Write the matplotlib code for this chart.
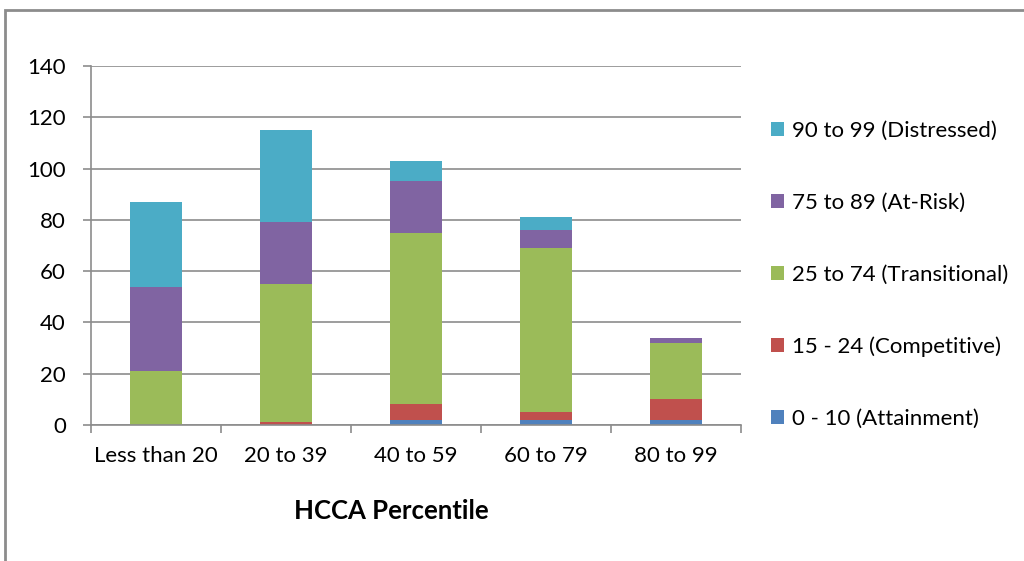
import numpy as np
import matplotlib.pyplot as plt
from matplotlib.patches import Rectangle

categories = ["Less than 20", "20 to 39", "40 to 59", "60 to 79", "80 to 99"]
series_names = ["0 - 10 (Attainment)", "15 - 24 (Competitive)", "25 to 74 (Transitional)",
                "75 to 89 (At-Risk)", "90 to 99 (Distressed)"]
attainment = [0, 0, 2, 2, 2]
competitive = [0, 1, 6, 3, 8]
transitional = [21, 54, 67, 64, 22]
at_risk = [33, 24, 20, 7, 2]
distressed = [33, 36, 8, 5, 0]
colors = ["#4f81bd", "#c0504d", "#9bbb59", "#8064a2", "#4bacc6"]

plt.rcParams['font.family'] = ['Lato', 'DejaVu Sans']
plt.rcParams['font.size'] = 16

fig = plt.figure(figsize=(10.24, 5.61), dpi=100)
ax = fig.add_axes([91/1024, 1 - 425/561, 650/1024, 359/561])

# outer chart border
fig.patches.append(Rectangle((5/1024, -0.1), 1.2, 1 - 10/561 + 0.1, transform=fig.transFigure,
                             fill=False, edgecolor="#8c8c8c", linewidth=2))

x = np.arange(len(categories))
bottom = np.zeros(len(categories))
handles = []
for vals, name, c in zip([attainment, competitive, transitional, at_risk, distressed], series_names, colors):
    b = ax.bar(x, vals, width=0.4, bottom=bottom, color=c, label=name)
    handles.append(b)
    bottom += np.array(vals)

ax.set_xlim(-0.5, 4.5)
ax.set_ylim(0, 140)
ax.set_yticks(range(0, 141, 20))
ax.set_xticks(x)
ax.set_xticklabels(categories)
ax.set_xticks(np.arange(-0.5, 5, 1), minor=True)
ax.tick_params(axis='x', which='major', length=0, pad=15)
ax.tick_params(axis='x', which='minor', length=6, color="#8c8c8c", width=1.2)
ax.tick_params(axis='y', length=6, color="#8c8c8c", width=1.2, pad=12)
ax.yaxis.grid(True, color="#8c8c8c", linewidth=1.2)
ax.set_axisbelow(True)
for s in ["top", "right"]:
    ax.spines[s].set_visible(False)
for s in ["left", "bottom"]:
    ax.spines[s].set_color("#8c8c8c")
    ax.spines[s].set_linewidth(1.2)

ax.set_xlabel("HCCA Percentile", fontweight="bold", fontsize=18.5)
ax.xaxis.set_label_coords(0.462, -0.207)

ax.legend(handles[::-1], series_names[::-1], loc="center left", bbox_to_anchor=(1.015, 0.418),
          frameon=False, handlelength=0.59, handleheight=0.59, labelspacing=2.34,
          handletextpad=0.35, fontsize=16)

fig.savefig("out.png", dpi=100)
